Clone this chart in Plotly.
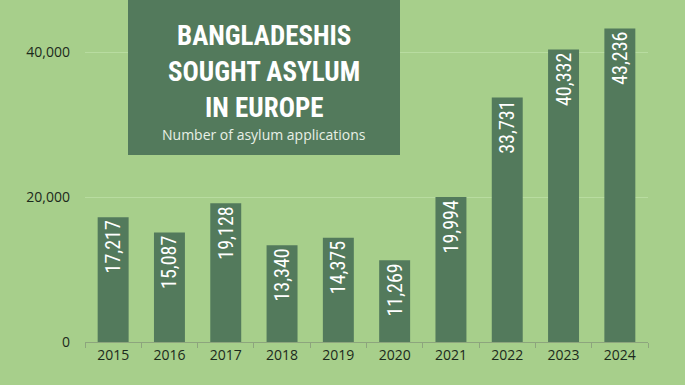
import plotly.graph_objects as go

years = ["2015", "2016", "2017", "2018", "2019", "2020", "2021", "2022", "2023", "2024"]
applications = [17217, 15087, 19128, 13340, 14375, 11269, 19994, 33731, 40332, 43236]
y_ticks = [0, 20000, 40000]
y_tick_labels = ["0", "20,000", "40,000"]
title_lines = ["BANGLADESHIS", "SOUGHT ASYLUM", "IN EUROPE"]
subtitle = "Number of asylum applications"

BG = "#a7cf8b"
BAR = "#537a5c"
TXT = "#1c2a1c"
COND = "Roboto Condensed, Open Sans Condensed, sans-serif"

W, H = 685, 385
L, R, T, B = 85, 37, 10, 43
PW, PH = W - L - R, H - T - B


def px(x):
    return (x - L) / PW


def py(y):
    return (H - B - y) / PH


fig = go.Figure(go.Bar(
    x=years, y=applications,
    marker=dict(color=BAR, line=dict(width=0)),
    text=[f"{v:,}" for v in applications],
    textposition="inside", insidetextanchor="end", textangle=-90,
    textfont=dict(family=COND, size=20, color="white"),
    constraintext="none",
))

annotations = []
for line, yc in zip(title_lines, [36, 72, 108]):
    annotations.append(dict(text=line, xref="paper", yref="paper", x=px(264), y=py(yc),
                            xanchor="center", yanchor="middle", showarrow=False,
                            font=dict(family=COND, size=27, color="white", weight="bold")))
annotations.append(dict(text=subtitle, xref="paper", yref="paper", x=px(264), y=py(134),
                        xanchor="center", yanchor="middle", showarrow=False,
                        font=dict(family="Open Sans, sans-serif", size=14, color="#e8f0e6")))

fig.update_layout(
    width=W, height=H,
    margin=dict(l=L, r=R, t=T, b=B),
    paper_bgcolor=BG, plot_bgcolor=BG,
    bargap=0.45, showlegend=False,
    font=dict(family="Open Sans, sans-serif", color=TXT),
    xaxis=dict(showline=True, linecolor="#8da57d", linewidth=1, ticks="outside",
               tickson="boundaries", ticklen=5, tickcolor="#8da57d",
               tickfont=dict(size=14, color=TXT), showgrid=False),
    yaxis=dict(range=[0, 20000 * PH / 145], tickvals=y_ticks, ticktext=y_tick_labels,
               showgrid=True, gridcolor="#b8dca0", gridwidth=1, zeroline=False,
               tickfont=dict(size=14, color=TXT), ticklabelstandoff=14),
    shapes=[dict(type="rect", xref="paper", yref="paper", layer="above",
                 x0=px(128), x1=px(400), y0=py(155), y1=py(-5),
                 fillcolor=BAR, line=dict(width=0))],
    annotations=annotations,
)

fig.write_html("out.html", config={"displayModeBar": False},
               post_script="document.body.style.margin='0';document.body.style.background='%s';" % BG)
